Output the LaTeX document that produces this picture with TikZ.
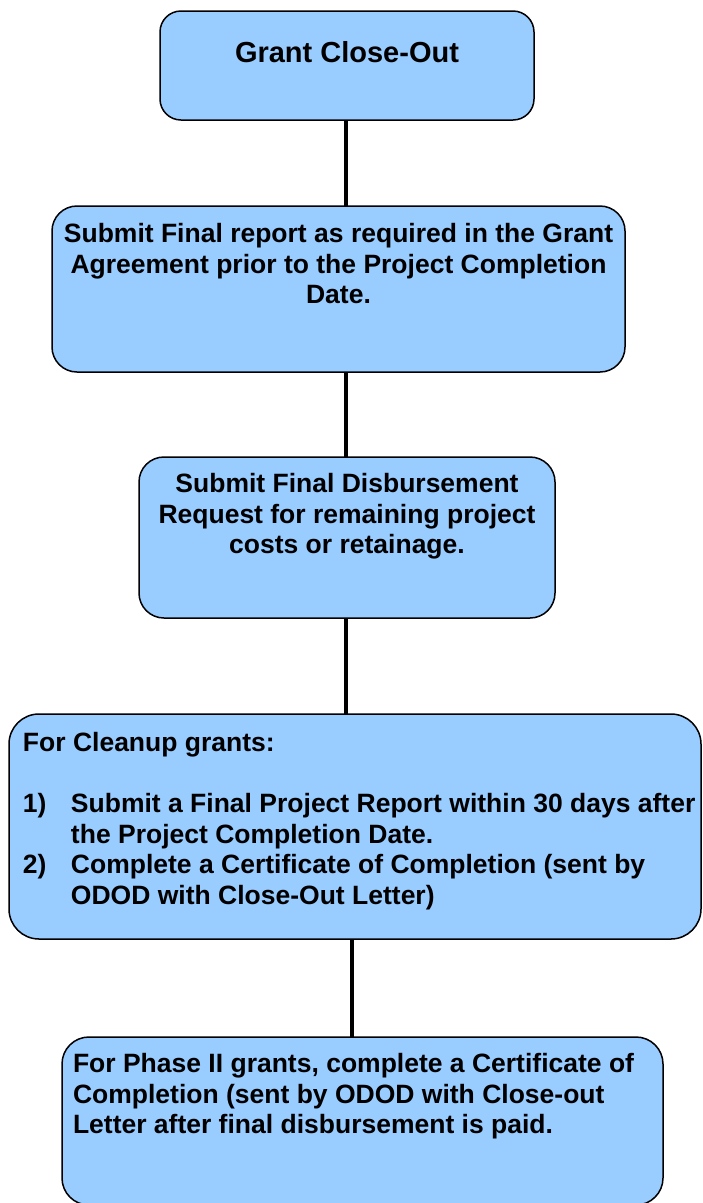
\documentclass[tikz,border=0pt]{standalone}
\usepackage{fontspec}
\setmainfont{Liberation Sans}
\definecolor{boxblue}{HTML}{99CCFF}
\newcommand\bodyfnt{\fontsize{26.5pt}{30.5pt}\selectfont\bfseries}
\newcommand\titlefnt{\fontsize{29pt}{33pt}\selectfont\bfseries}
\tikzset{
  flowbox/.style={draw=black, line width=1.5pt, fill=boxblue, inner sep=0pt, outer sep=0pt},
  boxtext/.style={inner sep=0pt, outer sep=0pt, text=black, font=\bodyfnt},
  conn/.style={draw=black, line width=4pt, line cap=butt}
}
\begin{document}
\begin{tikzpicture}[x=1pt,y=-1pt]
\useasboundingbox (0,0) rectangle (702,1203);
\fill[white] (0,0) rectangle (702,1203);
\begin{scope}
\clip (0,0) rectangle (702,1203);
% boxes
\node[flowbox, rounded corners=21pt, minimum width=374pt, minimum height=109pt] (b1) at (347,65.5) {};
\node[flowbox, rounded corners=25pt, minimum width=573pt, minimum height=166pt] (b2) at (338.5,289) {};
\node[flowbox, rounded corners=25pt, minimum width=416pt, minimum height=161pt] (b3) at (347,537.5) {};
\node[flowbox, rounded corners=30pt, minimum width=692pt, minimum height=225pt] (b4) at (355,826.5) {};
\node[flowbox, rounded corners=27pt, minimum width=601pt, minimum height=168pt] (b5) at (362.5,1121) {};
% connectors
\draw[conn] ([xshift=-1pt]b1.south) -- ([xshift=-1pt]b1.south |- b2.north);
\draw[conn] ([xshift=-1pt]b1.south |- b2.south) -- ([xshift=-1pt]b1.south |- b3.north);
\draw[conn] ([xshift=-1pt]b3.south) -- ([xshift=-1pt]b3.south |- b4.north);
\draw[conn] ([xshift=-3pt]b4.south) -- ([xshift=-3pt]b4.south |- b5.north);
% texts
\node[boxtext, font=\titlefnt, anchor=base] (t1) at (347,62.4) {Grant Close-Out};
\node[boxtext, anchor=base] (t2) at (338.5,242.5) {\begin{tabular}[t]{@{}c@{}}
Submit Final report as required in the Grant\\
Agreement prior to the Project Completion\\
Date.
\end{tabular}};
\node[boxtext, anchor=base] (t3) at (347,492.5) {\begin{tabular}[t]{@{}c@{}}
Submit Final Disbursement\\
Request for remaining project\\
costs or retainage.
\end{tabular}};
\node[boxtext, anchor=base west] (t4) at (23,751.5) {\begin{tabular}[t]{@{}p{48pt}@{}l@{}}
\multicolumn{2}{@{}l@{}}{For Cleanup grants:}\\
\\
1) & Submit a Final Project Report within 30 days after\\
 & the Project Completion Date.\\
2) & Complete a Certificate of Completion (sent by\\
 & ODOD with Close-Out Letter)
\end{tabular}};
\node[boxtext, anchor=base west] (t5) at (73,1072.5) {\begin{tabular}[t]{@{}l@{}}
For Phase II grants, complete a Certificate of\\
Completion (sent by ODOD with Close-out\\
Letter after final disbursement is paid.
\end{tabular}};
\end{scope}
\end{tikzpicture}
\end{document}
